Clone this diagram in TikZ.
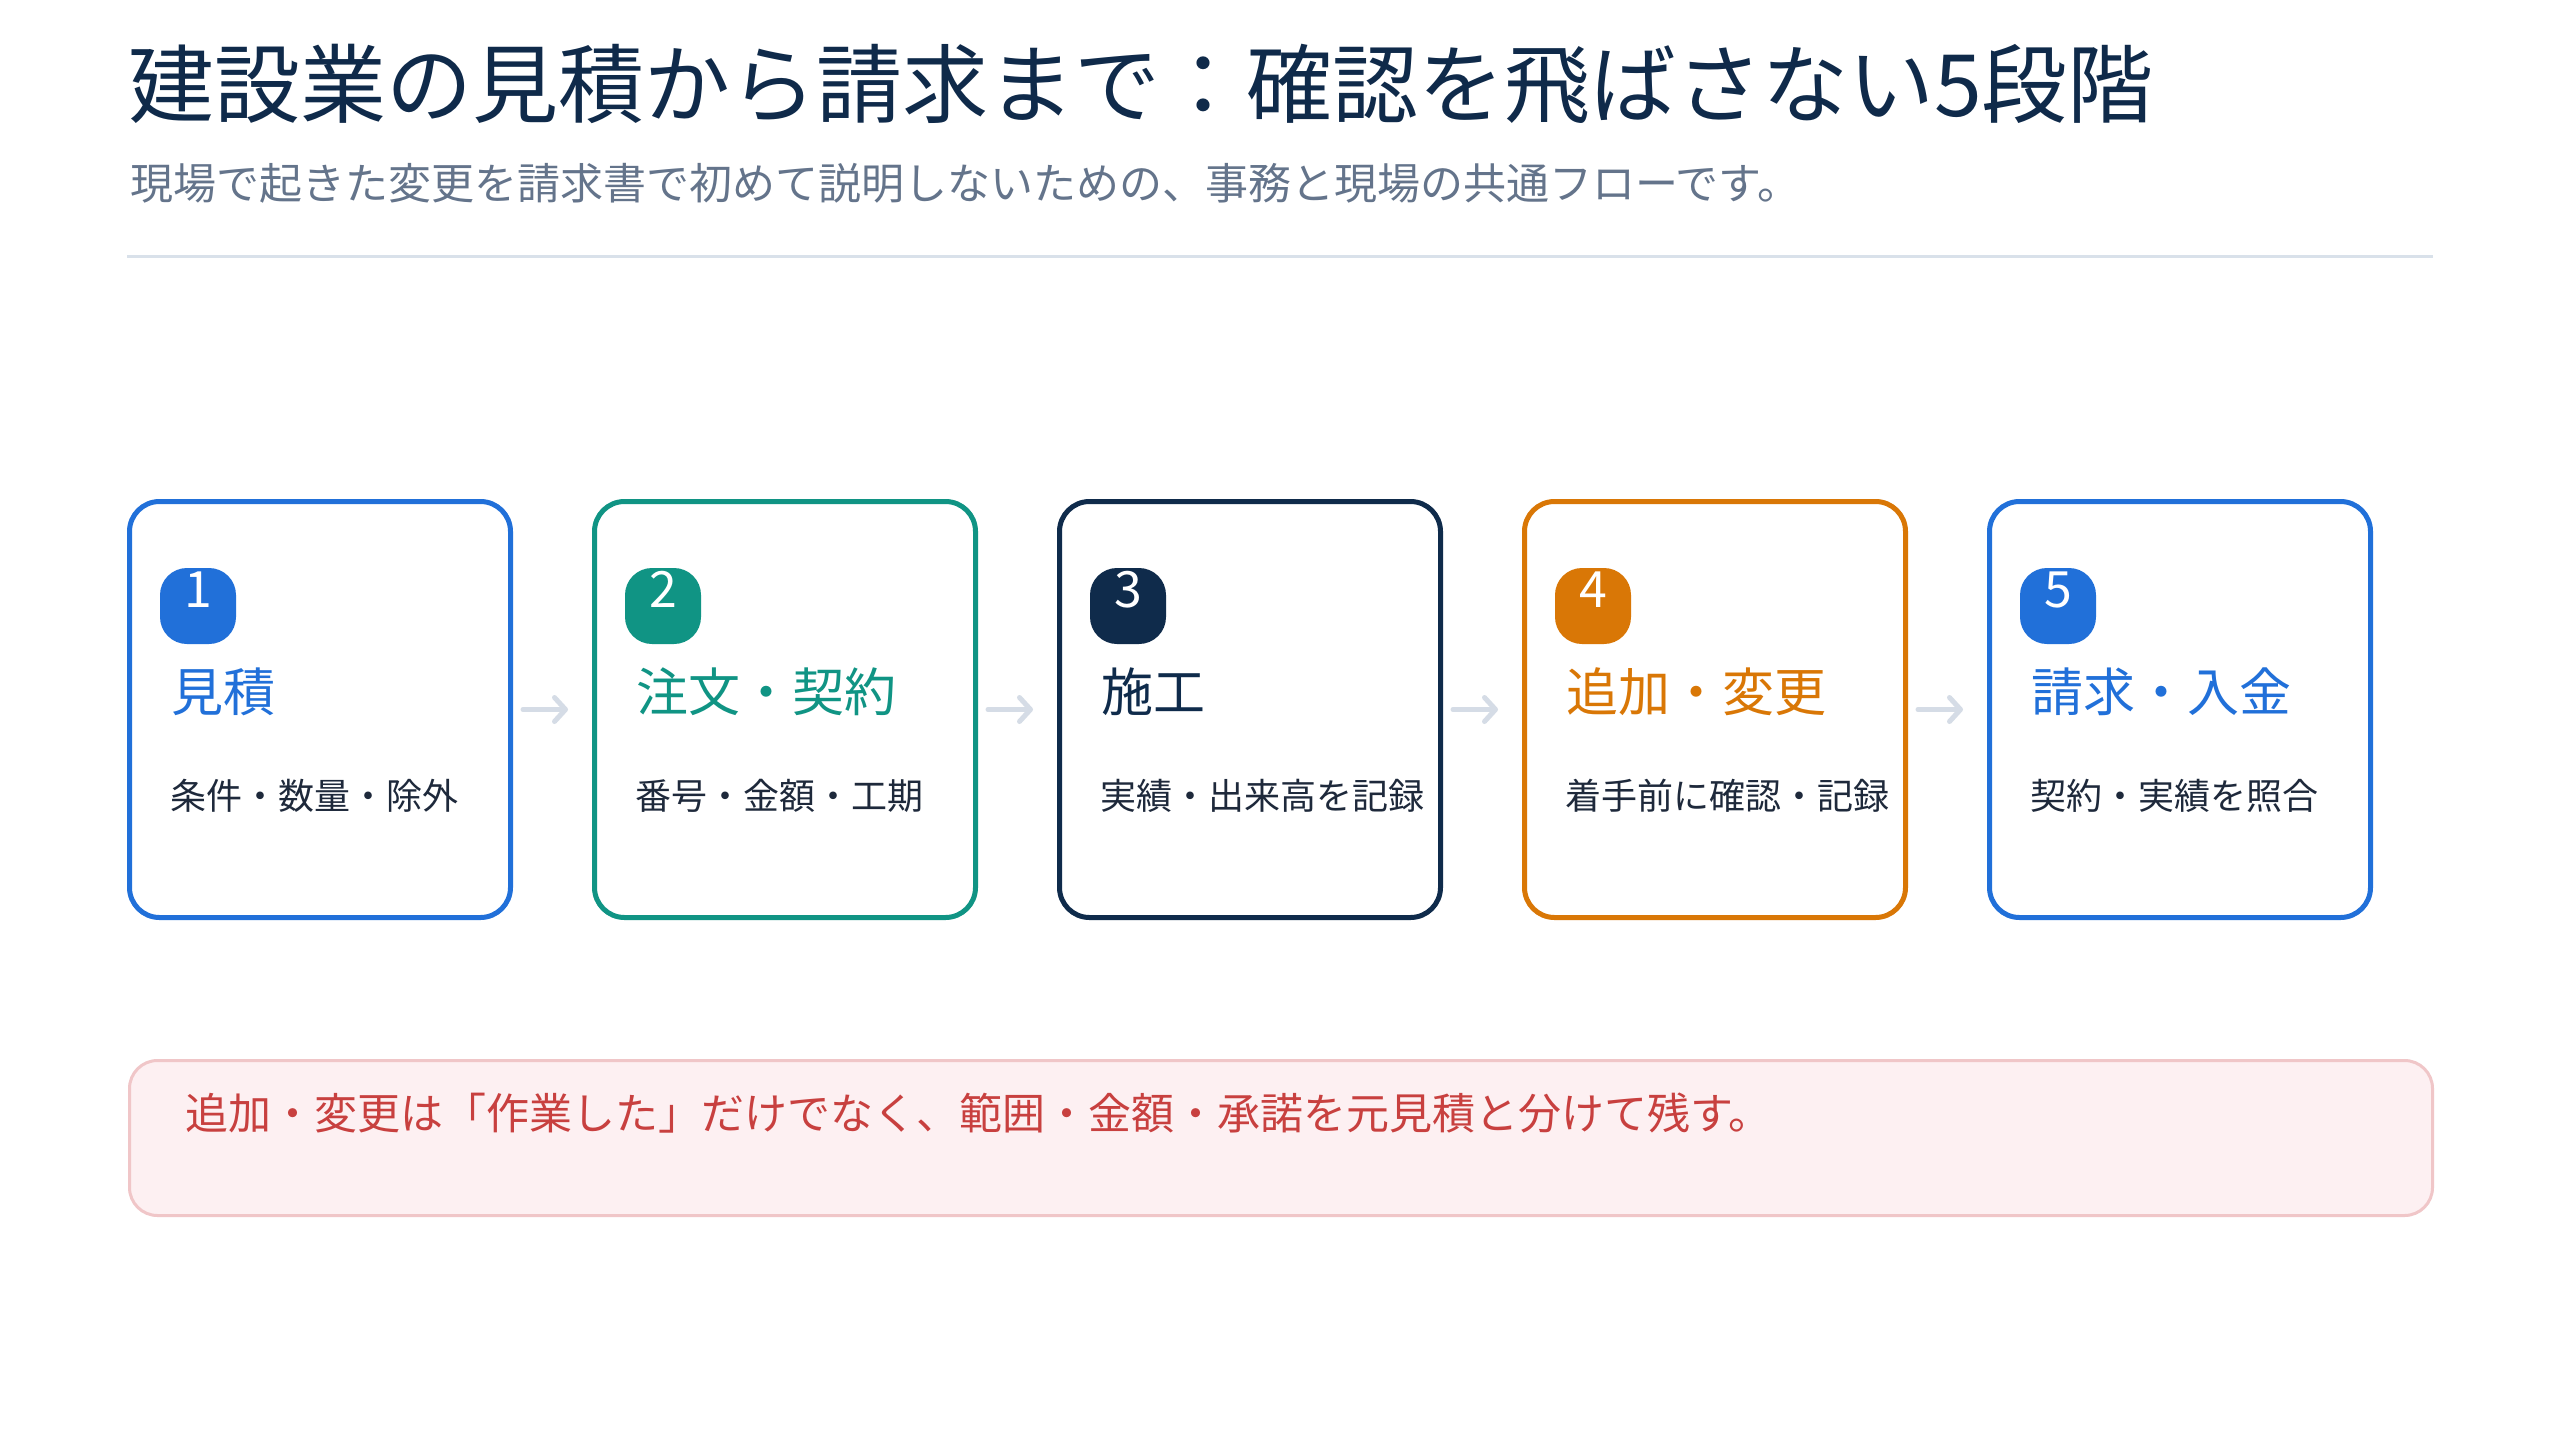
\documentclass[tikz,border=0pt]{standalone}
\usepackage{fontspec}
\setmainfont{Noto Sans CJK JP}
\usetikzlibrary{arrows.meta}
\definecolor{cblue}{HTML}{2170D9}
\definecolor{cteal}{HTML}{109484}
\definecolor{cnavy}{HTML}{0F2B4B}
\definecolor{corange}{HTML}{D97706}
\definecolor{ctitle}{HTML}{0F2A4A}
\definecolor{csub}{HTML}{64748B}
\definecolor{cdesc}{HTML}{1E293B}
\definecolor{cdiv}{HTML}{D9E1EA}
\definecolor{carrow}{HTML}{D5DCE6}
\definecolor{cnotefill}{HTML}{FDF0F2}
\definecolor{cnotedraw}{HTML}{F0C6C8}
\definecolor{cnotetext}{HTML}{C8403F}
\tikzset{
  stepbox/.style={draw=#1, line width=5pt, rounded corners=30pt, fill=white,
    minimum width=381pt, minimum height=416pt, inner sep=0pt},
  badgebox/.style={fill=#1, rounded corners=27pt, minimum width=76pt,
    minimum height=76pt, inner sep=0pt},
  digit/.style={text=white, inner sep=0pt, anchor=base,
    font=\fontsize{50}{50}\selectfont},
  steptitle/.style={text=#1, inner sep=0pt, anchor=base west,
    font=\fontsize{52}{52}\selectfont},
  stepdesc/.style={text=cdesc, inner sep=0pt, anchor=base west,
    font=\fontsize{36}{36}\selectfont},
  flowarrow/.style={draw=carrow, line width=5pt, line cap=round,
    -{Straight Barb[length=11pt,width=24pt,line cap=round,line join=round]}},
  notebox/.style={draw=cnotedraw, line width=3pt, fill=cnotefill,
    rounded corners=28pt, minimum width=2303pt, minimum height=155pt, inner sep=0pt},
}
\begin{document}
\begin{tikzpicture}[x=1pt,y=-1pt]
\useasboundingbox[fill=white] (0,0) rectangle (2560,1440);
% header
\node[text=ctitle, inner sep=0pt, anchor=base west,
  font=\fontsize{86}{86}\selectfont] (title) at (128,116)
  {建設業の見積から請求まで：確認を飛ばさない5段階};
\node[text=csub, inner sep=0pt, anchor=base west,
  font=\fontsize{43}{43}\selectfont] (subtitle) at (130,199)
  {現場で起きた変更を請求書で初めて説明しないための、事務と現場の共通フローです。};
\coordinate (divL) at (127,256);
\coordinate (divR) at (2433,256);
\draw[cdiv, line width=3pt] (divL) -- (divR);
% steps
\foreach \i/\x/\col/\tcol/\ttl/\dsc in {
  1/127/cblue/cblue/見積/条件・数量・除外,
  2/592/cteal/cteal/注文・契約/番号・金額・工期,
  3/1057/cnavy/cnavy/施工/実績・出来高を記録,
  4/1522/corange/corange/追加・変更/着手前に確認・記録,
  5/1987/cblue/cblue/請求・入金/契約・実績を照合}{
  \node[stepbox=\col] (b\i) at (\x+193,709.5) {};
  \node[badgebox=\col] (badge\i) at (\x+71,606) {};
  \node[digit] (d\i) at (\x+71,607) {\i};
  \node[steptitle=\tcol] (t\i) at (\x+44,711) {\ttl};
  \node[stepdesc] (s\i) at (\x+43,809) {\dsc};
}
\foreach \a/\b in {1/2,2/3,3/4,4/5}{
  \draw[flowarrow] ([xshift=10pt]b\a.east) -- ([xshift=-24pt]b\b.west);
}
% note
\node[notebox] (note) at (1281,1138) {};
\node[text=cnotetext, inner sep=0pt, anchor=base west,
  font=\fontsize{43}{43}\selectfont] (notetext) at (185,1129)
  {追加・変更は「作業した」だけでなく、範囲・金額・承諾を元見積と分けて残す。};
\end{tikzpicture}
\end{document}
